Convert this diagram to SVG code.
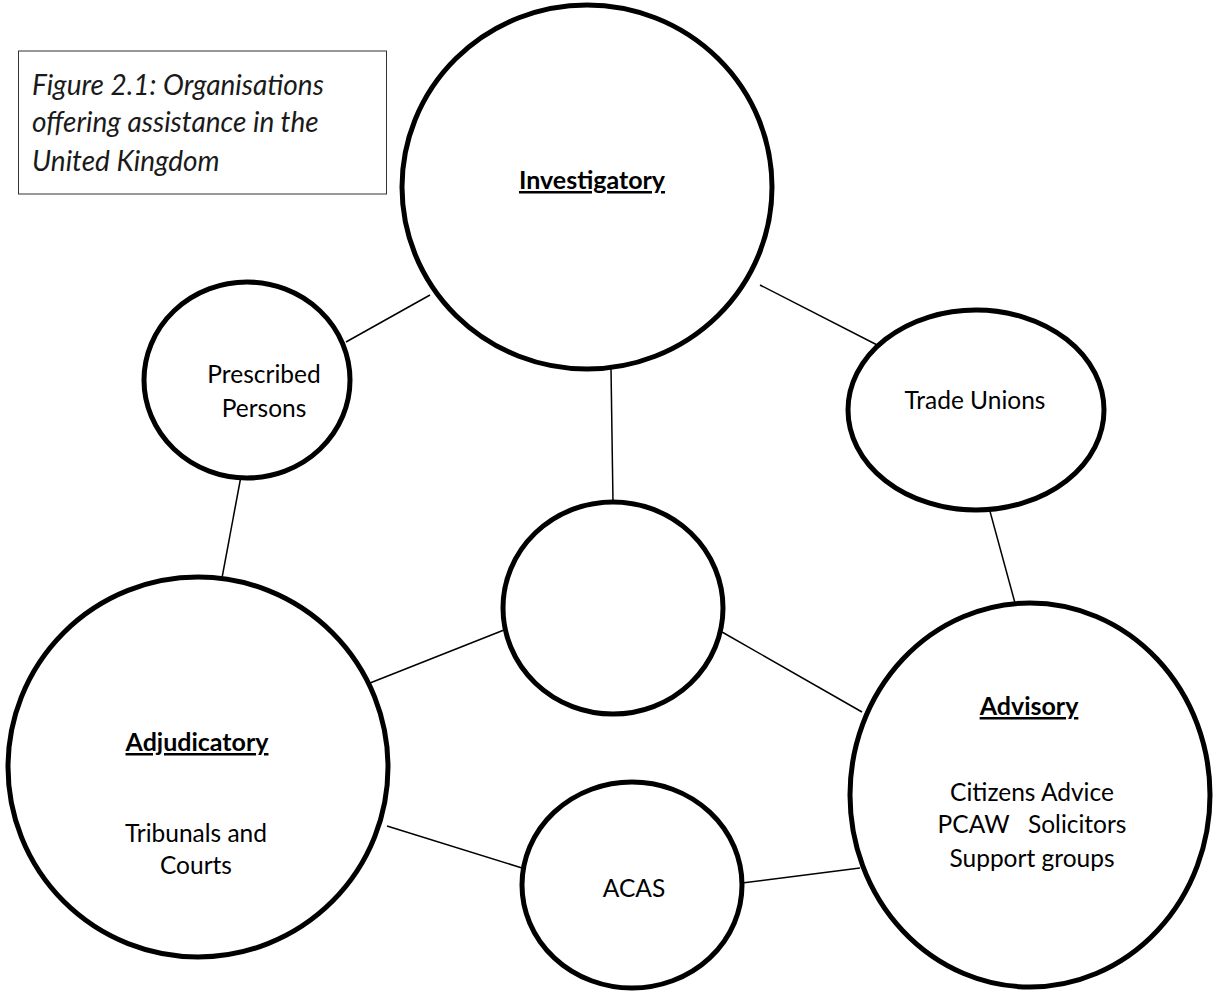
<svg xmlns="http://www.w3.org/2000/svg" width="1214" height="991" viewBox="0 0 1214 991">
  <style>
    .node { fill: #ffffff; stroke: #000000; stroke-width: 5; }
    .link { stroke: #000000; stroke-width: 1.5; fill: none; }
    .lbl { font-family: Lato, "Open Sans", sans-serif; font-size: 24.5px; fill: #000000; text-anchor: middle; }
    .head { font-size: 25px; font-weight: bold; text-decoration: underline; }
    .cap { font-family: Lato, "Open Sans", sans-serif; font-size: 28px; font-style: italic; fill: #1a1a1a; }
  </style>
  <rect width="1214" height="991" fill="#ffffff"/>

  <!-- caption box -->
  <g id="caption">
    <rect x="18.5" y="51" width="368" height="143" fill="#ffffff" stroke="#333333" stroke-width="1"/>
    <text class="cap" x="32" y="95">Figure 2.1: Organisations</text>
    <text class="cap" x="32" y="132">offering assistance in the</text>
    <text class="cap" x="32" y="171">United Kingdom</text>
  </g>

  <!-- connectors between circles -->
  <g id="connectors">
    <line class="link" x1="430" y1="295" x2="346" y2="342"/>
    <line class="link" x1="760" y1="285" x2="885" y2="349"/>
    <line class="link" x1="611" y1="368" x2="613" y2="503"/>
    <line class="link" x1="241" y1="476" x2="222" y2="578"/>
    <line class="link" x1="988" y1="504" x2="1015" y2="603"/>
    <line class="link" x1="504" y1="630" x2="370" y2="683"/>
    <line class="link" x1="722" y1="632" x2="862" y2="712"/>
    <line class="link" x1="387" y1="826" x2="522" y2="868"/>
    <line class="link" x1="742" y1="883" x2="860" y2="868"/>
  </g>

  <g id="investigatory">
    <ellipse class="node" cx="587" cy="187" rx="185" ry="182"/>
    <text class="lbl head" x="592" y="189">Investigatory</text>
  </g>

  <g id="prescribed-persons">
    <ellipse class="node" cx="247" cy="380" rx="103" ry="98"/>
    <text class="lbl" x="264" y="383">Prescribed</text>
    <text class="lbl" x="264" y="417">Persons</text>
  </g>

  <g id="trade-unions">
    <ellipse class="node" cx="976" cy="410" rx="128" ry="100"/>
    <text class="lbl" x="975" y="409">Trade Unions</text>
  </g>

  <g id="centre">
    <ellipse class="node" cx="613" cy="608" rx="110" ry="106"/>
  </g>

  <g id="adjudicatory">
    <ellipse class="node" cx="198" cy="767" rx="190" ry="190"/>
    <text class="lbl head" x="197" y="751">Adjudicatory</text>
    <text class="lbl" x="196" y="842">Tribunals and</text>
    <text class="lbl" x="196" y="874">Courts</text>
  </g>

  <g id="advisory">
    <ellipse class="node" cx="1030" cy="795" rx="180" ry="192"/>
    <text class="lbl head" x="1029" y="715">Advisory</text>
    <text class="lbl" x="1032" y="801">Citizens Advice</text>
    <text class="lbl" x="1032" y="833" xml:space="preserve">PCAW   Solicitors</text>
    <text class="lbl" x="1032" y="867">Support groups</text>
  </g>

  <g id="acas">
    <ellipse class="node" cx="632" cy="885" rx="110" ry="103"/>
    <text class="lbl" x="634" y="897">ACAS</text>
  </g>
</svg>
